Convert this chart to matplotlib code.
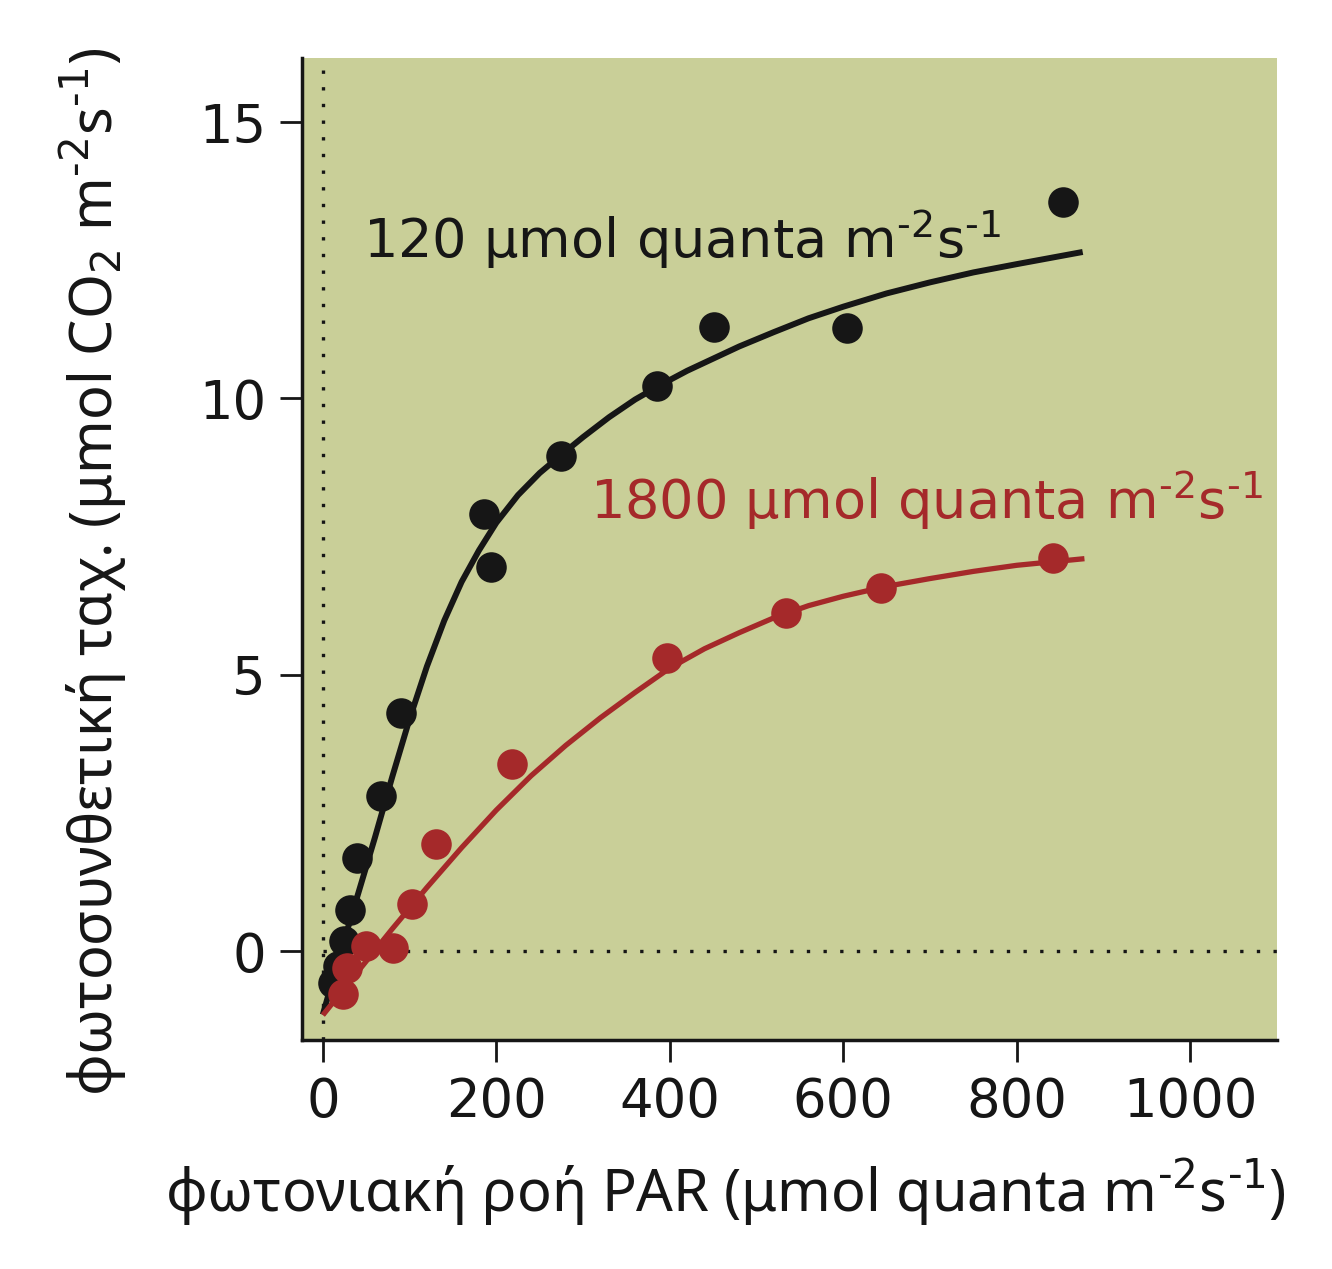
import matplotlib
matplotlib.use("Agg")
import matplotlib.pyplot as plt

# ---- data ----
black_x = [12, 17, 24, 31, 39, 67, 90, 186, 194, 275, 385, 451, 604, 853]
black_y = [-0.58, -0.27, 0.18, 0.74, 1.69, 2.81, 4.31, 7.91, 6.95, 8.96, 10.23, 11.29, 11.27, 13.55]

red_x = [23, 28, 50, 81, 103, 130, 218, 397, 534, 643, 842]
red_y = [-0.78, -0.31, 0.09, 0.05, 0.85, 1.94, 3.39, 5.31, 6.12, 6.57, 7.12]

black_fit_x = [0, 20, 40, 60, 80, 100, 120, 140, 160, 180, 200, 225, 250, 275, 300, 330, 360,
               390, 420, 450, 480, 520, 560, 600, 650, 700, 750, 800, 876]
black_fit_y = [-1.15, -0.05, 1.0, 2.05, 3.15, 4.2, 5.15, 5.98, 6.68, 7.25, 7.75, 8.25, 8.65, 8.98,
               9.3, 9.66, 9.98, 10.25, 10.5, 10.72, 10.94, 11.2, 11.45, 11.66, 11.9, 12.1, 12.28, 12.43, 12.65]

red_fit_x = [0, 40, 80, 120, 160, 200, 240, 280, 320, 360, 400, 440, 480, 520, 560, 600, 650,
             700, 750, 800, 878]
red_fit_y = [-1.16, -0.38, 0.4, 1.15, 1.87, 2.55, 3.17, 3.72, 4.22, 4.68, 5.12, 5.47, 5.76, 6.03,
             6.25, 6.42, 6.6, 6.74, 6.87, 6.98, 7.1]

x_ticks = [0, 200, 400, 600, 800, 1000]
y_ticks = [0, 5, 10, 15]

label_black = r"120 μmol quanta m$^{\text{-}2}$s$^{\text{-}1}$"
label_red = r"1800 μmol quanta m$^{\text{-}2}$s$^{\text{-}1}$"
xlabel = r"φωτονιακή ροή PAR (μmol quanta m$^{\text{-}2}$s$^{\text{-}1}$)"
ylabel = r"φωτοσυνθετική ταχ. (μmol CO$_{\text{2}}$ m$^{\text{-}2}$s$^{\text{-}1}$)"

BLACK = "#161616"
RED = "#A5292A"
BG = "#C9CF98"

plt.rcParams["font.family"] = ["DejaVu Sans"]
plt.rcParams["mathtext.fontset"] = "dejavusans"

fig = plt.figure(figsize=(13.32, 12.69), dpi=100)
ax = fig.add_axes([302/1332, 1-1040/1269, (1277-302)/1332, (1040-58)/1269])
ax.set_facecolor(BG)

ax.set_xlim(-24, 1100)
ax.set_ylim(-1.61, 16.16)

ax.axvline(0, color=BLACK, lw=2.4, ls=(0, (1, 4)), zorder=1)
ax.axhline(0, color=BLACK, lw=2.4, ls=(0, (1, 4)), zorder=1, xmin=(0+24)/1124)

ax.plot(black_fit_x, black_fit_y, color=BLACK, lw=4.3, zorder=2, solid_capstyle="butt",
        solid_joinstyle="round")
ax.plot(red_fit_x, red_fit_y, color=RED, lw=3.8, zorder=2, solid_capstyle="butt",
        solid_joinstyle="round")
ax.plot(black_x, black_y, "o", color=BLACK, ms=22, mec="none", zorder=3)
ax.plot(red_x, red_y, "o", color=RED, ms=22, mec="none", zorder=4)

ax.text(46, 12.87, label_black, color=BLACK, fontsize=39, va="center", ha="left")
ax.text(308, 8.16, label_red, color=RED, fontsize=39, va="center", ha="left")

ax.set_xticks(x_ticks)
ax.set_yticks(y_ticks)
ax.tick_params(axis="both", direction="out", length=16, width=2, labelsize=38,
               color=BLACK, labelcolor=BLACK, pad=10)
for s in ["top", "right"]:
    ax.spines[s].set_visible(False)
for s in ["left", "bottom"]:
    ax.spines[s].set_linewidth(2.5)
    ax.spines[s].set_color(BLACK)

fig.text(725/1332, 1-1192/1269, xlabel, fontsize=41.5, ha="center", va="center", color=BLACK,
         family=["Noto Sans", "DejaVu Sans"])
fig.text(93/1332, 1-572/1269, ylabel, fontsize=41.5, ha="center", va="center", color=BLACK,
         rotation=90, family=["Noto Sans", "DejaVu Sans"])

fig.savefig("out.png", dpi=100, facecolor="white")
